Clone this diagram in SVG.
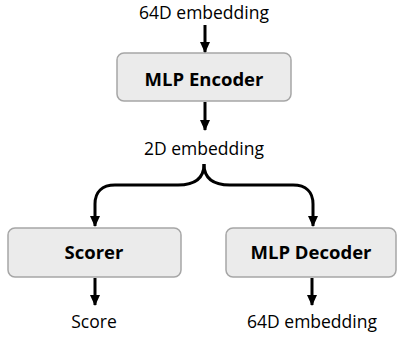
<svg xmlns="http://www.w3.org/2000/svg" width="398" height="337" viewBox="0 0 398 337">
<defs>
<marker id="ah" markerUnits="userSpaceOnUse" markerWidth="12" markerHeight="12" viewBox="0 0 12 12" refX="10" refY="6" orient="auto">
<path d="M0,1 L11,6 L0,11 Z" fill="#000"/>
</marker>
<style>
.box{fill:#ebebeb;stroke:#a6a6a6;stroke-width:1.5}
.t{font-family:"Open Sans","Liberation Sans",sans-serif;font-size:17.5px;fill:#000;text-anchor:middle}
.b{font-weight:bold;font-size:18.5px}
.c{fill:none;stroke:#000;stroke-width:3}
</style>
</defs>
<text class="t" x="204" y="19">64D embedding</text>
<g id="encoder">
<rect class="box" x="117" y="53" width="174" height="48" rx="7"/>
<text class="t b" x="204" y="86">MLP Encoder</text>
</g>
<text class="t" x="204" y="155">2D embedding</text>
<g id="scorer">
<rect class="box" x="8" y="228" width="173" height="49" rx="7"/>
<text class="t b" x="94" y="259">Scorer</text>
</g>
<g id="decoder">
<rect class="box" x="226" y="228" width="170" height="49" rx="7"/>
<text class="t b" x="311" y="259">MLP Decoder</text>
</g>
<text class="t" x="94" y="328">Score</text>
<text class="t" x="312" y="328">64D embedding</text>
<g id="connectors">
<path class="c" d="M205,25 V52" marker-end="url(#ah)"/>
<path class="c" d="M205,102 V130" marker-end="url(#ah)"/>
<path class="c" d="M204,164 C204,178 196,185 178,185 H115 C102,185 95,192 95,204 V226" marker-end="url(#ah)"/>
<path class="c" d="M204,164 C204,178 212,185 230,185 H293 C306,185 313,192 313,204 V226" marker-end="url(#ah)"/>
<path class="c" d="M95,278 V305" marker-end="url(#ah)"/>
<path class="c" d="M312,278 V305" marker-end="url(#ah)"/>
</g>
</svg>
